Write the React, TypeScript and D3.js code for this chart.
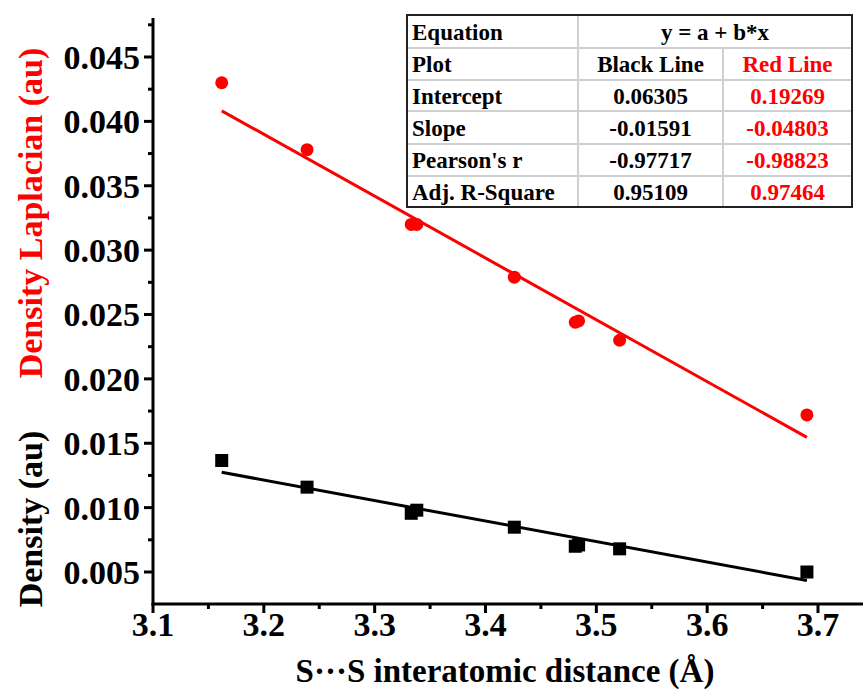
import React from "react";
import * as d3 from "d3";

const distances = [3.162, 3.239, 3.333, 3.338, 3.426, 3.481, 3.484, 3.521, 3.690];
const laplacian = [0.0430, 0.0378, 0.0320, 0.0320, 0.0279, 0.0244, 0.0245, 0.0230, 0.0172];
const density = [0.01366, 0.01159, 0.00956, 0.00980, 0.00848, 0.00700, 0.00710, 0.00680, 0.00500];

const blackFit = { a: 0.06305, b: -0.01591 };
const redFit = { a: 0.19269, b: -0.04803 };

const xTicks = [3.1, 3.2, 3.3, 3.4, 3.5, 3.6, 3.7];
const yTicks = [0.005, 0.01, 0.015, 0.02, 0.025, 0.03, 0.035, 0.04, 0.045];

const tableLabels = ["Equation", "Plot", "Intercept", "Slope", "Pearson's r", "Adj. R-Square"];
const tableBlack = ["0.06305", "-0.01591", "-0.97717", "0.95109"];
const tableRed = ["0.19269", "-0.04803", "-0.98823", "0.97464"];

const FONT = "'Liberation Serif', 'Times New Roman', serif";

export default function App() {
  const W = 863, H = 693;
  const x = d3.scaleLinear().domain([3.1, 3.7]).range([153, 818]);
  const y = d3.scaleLinear().domain([0.005, 0.045]).range([572, 57]);
  const xMin = 3.1, xMax = x.invert(863);
  const yMin = y.invert(604), yMax = y.invert(18);

  const xMinor = d3.range(3.15, xMax, 0.1);
  const yMinor = d3.range(0.0075, yMax, 0.005);

  const line = d3.line<number>().x(d => x(d[0])).y(d => y(d[1]));
  const x0 = distances[0], x1 = distances[distances.length - 1];
  const redLine = line([[x0, redFit.a + redFit.b * x0], [x1, redFit.a + redFit.b * x1]] as any);
  const blackLine = line([[x0, blackFit.a + blackFit.b * x0], [x1, blackFit.a + blackFit.b * x1]] as any);

  const axisX = x(xMin), axisY = y(yMin);

  // table geometry
  const cols = [407, 578, 723, 852];
  const rows = [15, 48, 80, 111, 144, 176, 207];

  return (
    <svg width={W} height={H} style={{ position: "absolute", left: 0, top: 0, background: "#fff" }} fontFamily={FONT}>
      <rect x={0} y={0} width={W} height={H} fill="#fff" />
      {/* fit lines */}
      <path d={redLine || ""} stroke="#ff0000" strokeWidth={3} fill="none" />
      <path d={blackLine || ""} stroke="#000" strokeWidth={3} fill="none" />
      {/* markers */}
      {distances.map((d, i) => (
        <circle key={"r" + i} cx={x(d)} cy={y(laplacian[i])} r={6.5} fill="#ff0000" />
      ))}
      {distances.map((d, i) => (
        <rect key={"b" + i} x={x(d) - 6.5} y={y(density[i]) - 6.5} width={13} height={13} fill="#000" />
      ))}

      {/* axes */}
      <line x1={axisX} x2={axisX} y1={y(yMax)} y2={axisY + 1.5} stroke="#000" strokeWidth={3} />
      <line x1={axisX - 1.5} x2={W} y1={axisY} y2={axisY} stroke="#000" strokeWidth={3} />
      {yTicks.map(t => (
        <g key={"yt" + t}>
          <line x1={axisX - 9} x2={axisX} y1={y(t)} y2={y(t)} stroke="#000" strokeWidth={3} />
          <text x={140} y={y(t)} dy="0.35em" textAnchor="end" fontSize={34} fontWeight="bold">{d3.format(".3f")(t)}</text>
        </g>
      ))}
      {yMinor.map(t => (
        <line key={"ym" + t} x1={axisX - 5} x2={axisX} y1={y(t)} y2={y(t)} stroke="#000" strokeWidth={3} />
      ))}
      {xTicks.map(t => (
        <g key={"xt" + t}>
          <line x1={x(t)} x2={x(t)} y1={axisY} y2={axisY + 9} stroke="#000" strokeWidth={3} />
          <text x={x(t)} y={636} textAnchor="middle" fontSize={34} fontWeight="bold">{d3.format(".1f")(t)}</text>
        </g>
      ))}
      {xMinor.map(t => (
        <line key={"xm" + t} x1={x(t)} x2={x(t)} y1={axisY} y2={axisY + 5} stroke="#000" strokeWidth={3} />
      ))}

      {/* axis titles */}
      <text x={505} y={682} textAnchor="middle" fontSize={33} fontWeight="bold">S···S interatomic distance (Å)</text>
      <text transform="translate(42,213) rotate(-90)" textAnchor="middle" fontSize={34} fontWeight="bold" fill="#ff0000">Density Laplacian (au)</text>
      <text transform="translate(42,519) rotate(-90)" textAnchor="middle" fontSize={34} fontWeight="bold" fill="#000">Density (au)</text>

      {/* table */}
      <g fontSize={23} fontWeight="bold">
        <rect x={cols[0]} y={rows[0]} width={cols[3] - cols[0]} height={rows[6] - rows[0]} fill="#fff" />
        {rows.slice(1, 6).map(r => (
          <line key={"hr" + r} x1={cols[0]} x2={cols[3]} y1={r} y2={r} stroke="#d0d0d0" strokeWidth={2} />
        ))}
        <line x1={cols[1]} x2={cols[1]} y1={rows[0]} y2={rows[6]} stroke="#d0d0d0" strokeWidth={2} />
        <line x1={cols[2]} x2={cols[2]} y1={rows[1]} y2={rows[6]} stroke="#d0d0d0" strokeWidth={2} />
        <rect x={cols[0]} y={rows[0]} width={cols[3] - cols[0]} height={rows[6] - rows[0]} fill="none" stroke="#222" strokeWidth={2} />
        {tableLabels.map((lab, i) => (
          <text key={"tl" + i} x={cols[0] + 5} y={(rows[i] + rows[i + 1]) / 2} dy="0.35em" fill="#000">{lab}</text>
        ))}
        <text x={(cols[1] + cols[3]) / 2} y={(rows[0] + rows[1]) / 2} dy="0.35em" textAnchor="middle">y = a + b*x</text>
        <text x={(cols[1] + cols[2]) / 2} y={(rows[1] + rows[2]) / 2} dy="0.35em" textAnchor="middle">Black Line</text>
        <text x={(cols[2] + cols[3]) / 2} y={(rows[1] + rows[2]) / 2} dy="0.35em" textAnchor="middle" fill="#ff0000">Red Line</text>
        {tableBlack.map((v, i) => (
          <text key={"tb" + i} x={(cols[1] + cols[2]) / 2} y={(rows[i + 2] + rows[i + 3]) / 2} dy="0.35em" textAnchor="middle">{v}</text>
        ))}
        {tableRed.map((v, i) => (
          <text key={"tr" + i} x={(cols[2] + cols[3]) / 2} y={(rows[i + 2] + rows[i + 3]) / 2} dy="0.35em" textAnchor="middle" fill="#ff0000">{v}</text>
        ))}
      </g>
    </svg>
  );
}
